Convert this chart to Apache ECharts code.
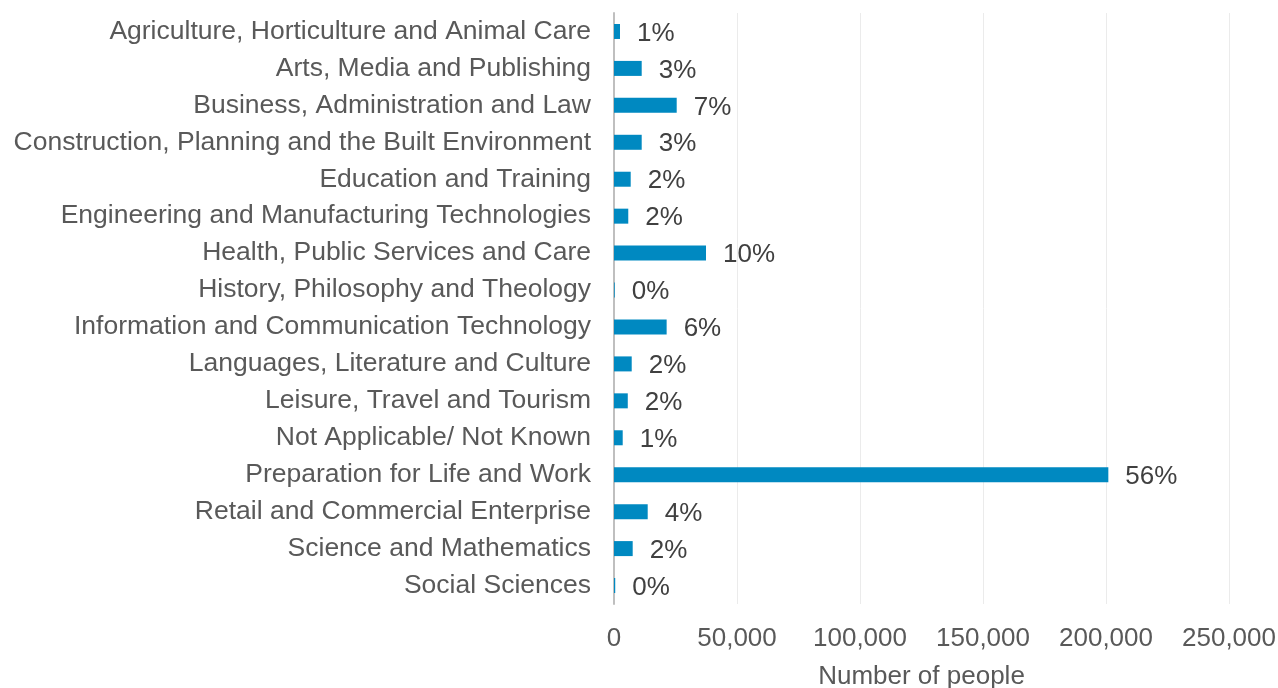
<!DOCTYPE html>
<html>
<head>
<meta charset="utf-8">
<script src="https://cdn.jsdelivr.net/npm/echarts@6/dist/echarts.min.js"></script>
<style>
  html, body { margin: 0; padding: 0; background: #fff; }
  #chart { width: 1278px; height: 688px; }
</style>
</head>
<body>
<div id="chart"></div>
<script>
// Learners by sector subject area
const categories = [
  'Agriculture, Horticulture and Animal Care',
  'Arts, Media and Publishing',
  'Business, Administration and Law',
  'Construction, Planning and the Built Environment',
  'Education and Training',
  'Engineering and Manufacturing Technologies',
  'Health, Public Services and Care',
  'History, Philosophy and Theology',
  'Information and Communication Technology',
  'Languages, Literature and Culture',
  'Leisure, Travel and Tourism',
  'Not Applicable/ Not Known',
  'Preparation for Life and Work',
  'Retail and Commercial Enterprise',
  'Science and Mathematics',
  'Social Sciences'
];

const people = [
  2440, 11260, 25490, 11260, 6790, 5800, 37400, 300,
  21400, 7200, 5600, 3540, 200950, 13700, 7600, 500
];

const xTicks = [0, 50000, 100000, 150000, 200000, 250000];

const total = people.reduce((a, b) => a + b, 0);

const chart = echarts.init(document.getElementById('chart'));
const font = 'Liberation Sans, Arial, sans-serif';

chart.setOption({
  animation: false,
  grid: {
    left: 614, right: 49, top: 13, bottom: 84,
    containLabel: false,
    outerBoundsMode: 'none'
  },
  xAxis: {
    type: 'value',
    min: xTicks[0],
    max: xTicks[xTicks.length - 1],
    interval: xTicks[1] - xTicks[0],
    name: 'Number of people',
    nameLocation: 'middle',
    nameGap: 60,
    nameTextStyle: { fontFamily: font, fontSize: 26, color: '#595959' },
    axisLine: { show: false },
    axisTick: { show: false },
    axisLabel: {
      fontFamily: font, fontSize: 26, color: '#595959', margin: 22,
      formatter: v => v.toLocaleString('en-US')
    },
    splitLine: { show: true, lineStyle: { color: '#ebebeb', width: 1 } }
  },
  yAxis: {
    type: 'category',
    inverse: true,
    data: categories,
    axisLine: { show: true, lineStyle: { color: '#bfbfbf', width: 2 } },
    axisTick: { show: false },
    axisLabel: {
      fontFamily: font, fontSize: 26.5, color: '#595959', margin: 23,
      padding: [3, 0, 0, 0]
    }
  },
  series: [{
    type: 'bar',
    data: people,
    barWidth: 15,
    itemStyle: { color: '#0089c1' },
    label: {
      show: true,
      position: 'right',
      distance: 17,
      offset: [0, 2],
      fontFamily: font,
      fontSize: 26,
      color: '#404040',
      formatter: p => Math.round(p.value / total * 100) + '%'
    }
  }]
});
</script>
</body>
</html>
